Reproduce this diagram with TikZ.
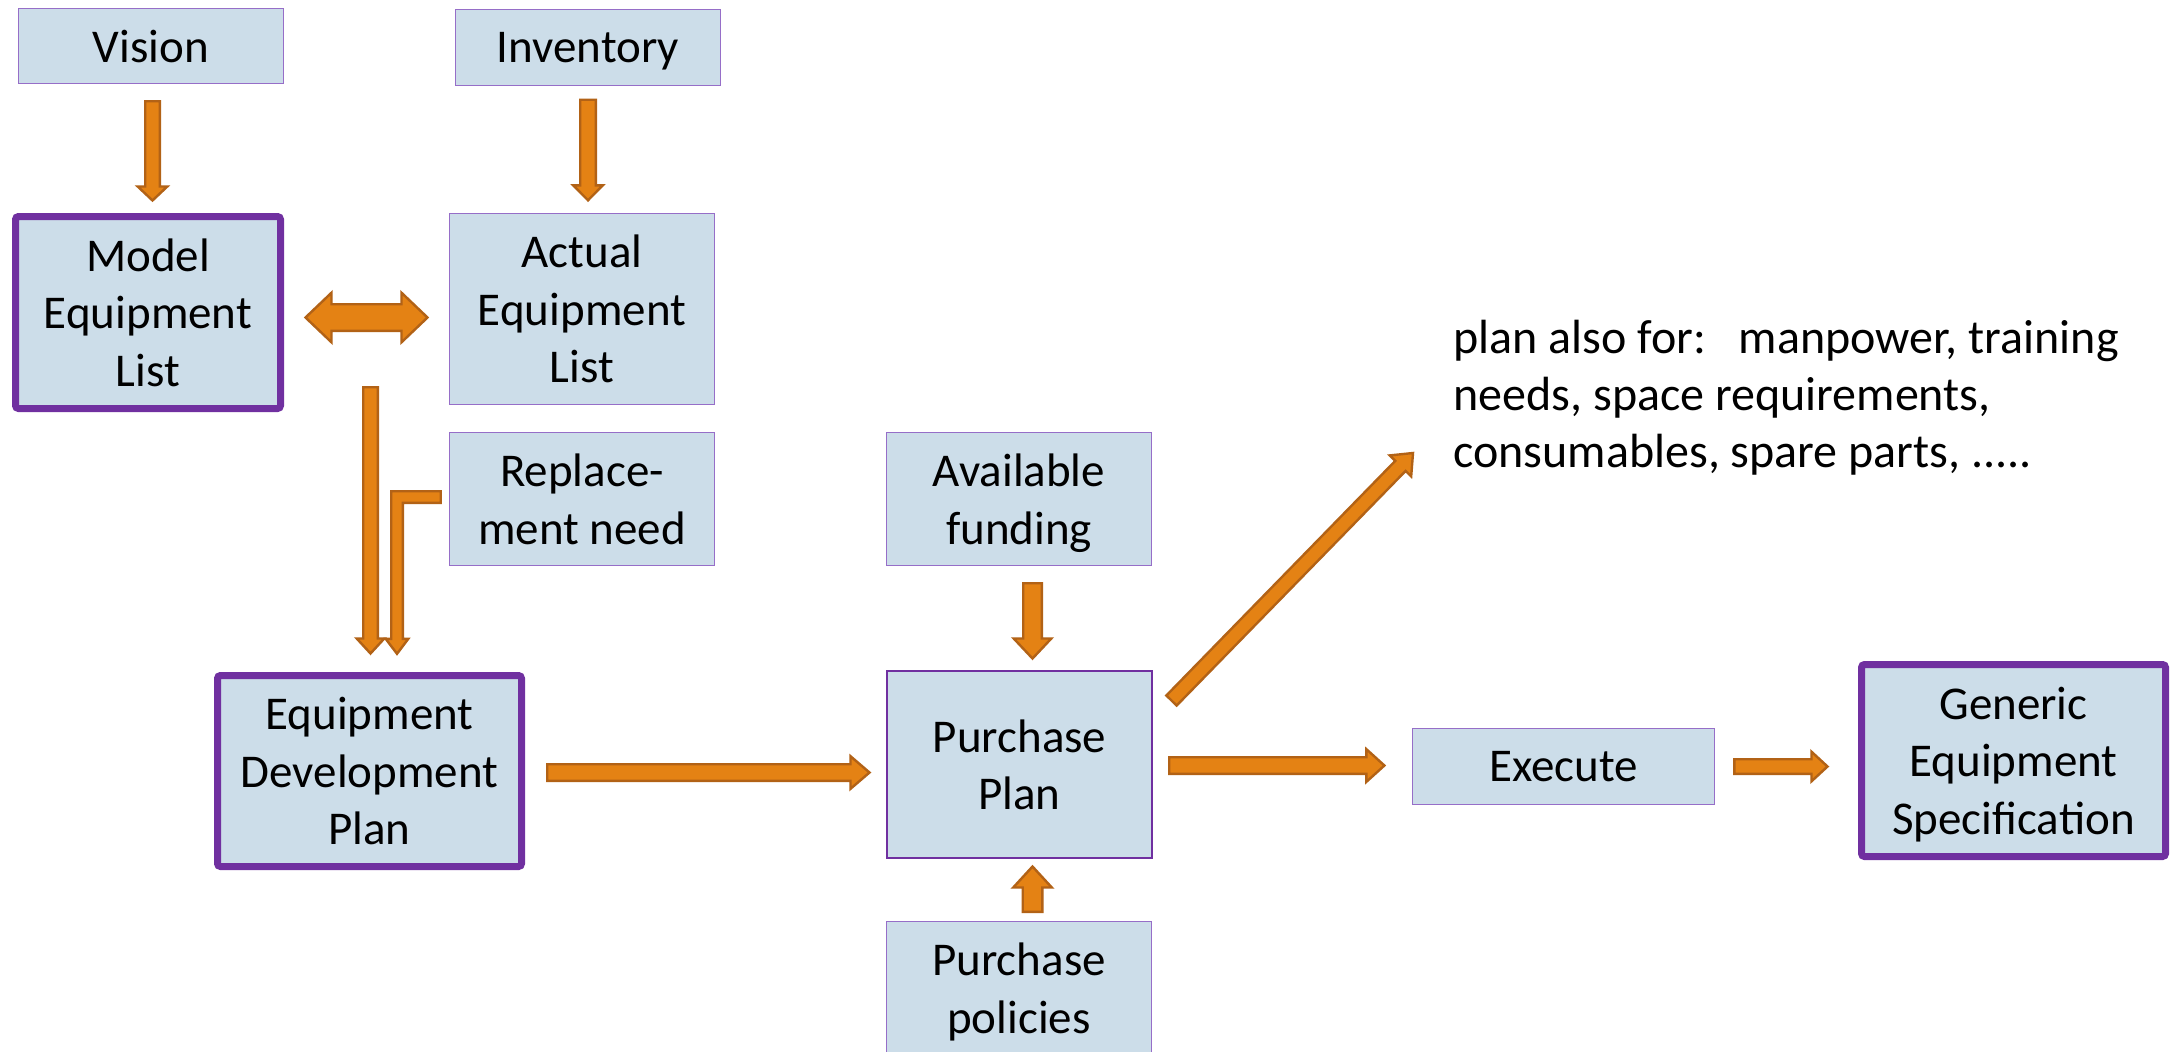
\documentclass[tikz,border=0pt]{standalone}
\usepackage{fontspec}
\setmainfont{Carlito}
\usetikzlibrary{calc}

\definecolor{boxfill}{RGB}{204,221,233}
\definecolor{edgethin}{RGB}{150,110,200}
\definecolor{edgethick}{RGB}{112,48,160}
\definecolor{arrfill}{RGB}{228,130,20}
\definecolor{arredge}{RGB}{178,98,22}

\tikzset{
  box/.style={draw=edgethin, line width=0.6pt, fill=boxfill, align=center,
    inner sep=0pt, text depth=0pt, font=\fontsize{23.5}{28.75}\selectfont,
    minimum width=132.4pt},
  keybox/.style={box, draw=edgethick, line width=3.5pt, rounded corners=1.5pt},
  midbox/.style={box, draw=edgethick, line width=1.1pt},
  blockarr/.style={fill=arrfill, draw=arredge, line width=1.2pt, line join=miter},
  note/.style={align=left, inner sep=0pt, font=\fontsize{24}{28.5}\selectfont},
}

% single-headed block arrow: start, tip, shaft half width, head half width, head length
\newcommand\fatarrow[5]{%
  \coordinate (fa-h) at ($(#2)!#5!(#1)$);
  \draw[blockarr] ($(#1)!#3!90:(#2)$) -- ($(fa-h)!#3!-90:(#1)$)
    -- ($(fa-h)!#4!-90:(#1)$) -- (#2) -- ($(fa-h)!#4!90:(#1)$)
    -- ($(fa-h)!#3!90:(#1)$) -- ($(#1)!#3!-90:(#2)$) -- cycle;}

% double-headed block arrow: tip, tip, shaft half width, head half width, head length
\newcommand\twinarrow[5]{%
  \coordinate (ta-a) at ($(#1)!#5!(#2)$);
  \coordinate (ta-b) at ($(#2)!#5!(#1)$);
  \draw[blockarr] (#1) -- ($(ta-a)!#4!90:(#2)$) -- ($(ta-a)!#3!90:(#2)$)
    -- ($(ta-b)!#3!-90:(#1)$) -- ($(ta-b)!#4!-90:(#1)$) -- (#2)
    -- ($(ta-b)!#4!90:(#1)$) -- ($(ta-b)!#3!90:(#1)$)
    -- ($(ta-a)!#3!-90:(#2)$) -- ($(ta-a)!#4!-90:(#2)$) -- cycle;}

\begin{document}
\begin{tikzpicture}[x=0.5pt, y=-0.5pt]
\useasboundingbox (0,0) rectangle (2177,1051);
\fill[white] (0,0) rectangle (2177,1051);

% boxes
\node[box, minimum height=37.4pt] (vision) at (151,46) {Vision};
\node[box, minimum height=37.9pt] (inventory) at (588,47.5) {Inventory};
\node[keybox, minimum width=132.5pt, minimum height=96pt] (model) at (148,312.5) {Model\\Equipment\\List};
\node[box, minimum height=95.4pt] (actual) at (582,309) {Actual\\Equipment\\List};
\node[box, minimum height=66.4pt] (repl) at (582,499) {Replace-\\ment need};
\node[keybox, minimum width=152pt, minimum height=95.5pt] (edp) at (369.5,771) {Equipment\\Development\\Plan};
\node[box, minimum height=66.4pt] (funding) at (1019,499) {Available\\funding};
\node[midbox, minimum height=93.4pt] (pp) at (1019.5,764.5) {Purchase\\Plan};
\node[box, minimum height=66.4pt] (policies) at (1019,988) {Purchase\\policies};
\node[box, minimum width=151pt, minimum height=37.9pt] (execute) at (1563.5,766.5) {Execute};
\node[keybox, minimum width=152pt, minimum height=96pt] (generic) at (2013.5,760.5) {Generic\\Equipment\\Specification};

% free text; its base anchor sits on the last line
\node[note, anchor=base west] (note) at (1453,467)
  {plan also for:\hspace{16.3pt}manpower, training\\needs, space requirements,\\consumables, spare parts, .....};

% arrow end points
\coordinate (v-s) at ($(vision.south)+(1.5,17.2)$);
\coordinate (v-e) at ($(model.north)+(4.5,-12.5)$);
\coordinate (i-s) at ($(inventory.south)+(0,13.7)$);
\coordinate (i-e) at ($(actual.north)+(6,-12.7)$);
\coordinate (m-a) at ($(model.east)+(21.5,5)$);
\coordinate (m-b) at ($(actual.west)+(-21.5,8.5)$);
\coordinate (pairout) at (370.5,387.2);
\coordinate (l-e) at ($(edp.north)+(1,-18.5)$);
\coordinate (d-s) at ($(edp.east)+(22.2,1.5)$);
\coordinate (d-e) at ($(pp.west)+(-16.5,8)$);
\coordinate (f-s) at ($(funding.south)+(13.5,17.2)$);
\coordinate (f-e) at ($(pp.north)+(13,-11.5)$);
\coordinate (p-s) at ($(policies.north)+(13.5,-9.2)$);
\coordinate (p-e) at ($(pp.south)+(13,7.5)$);
\coordinate (g-s) at ($(pp.north east)+(18.5,30.5)$);
\coordinate (notetip) at (1413,453);
\coordinate (x-s) at ($(pp.east)+(16.2,1)$);
\coordinate (x-e) at ($(execute.west)+(-27.5,-1)$);
\coordinate (s-s) at ($(execute.east)+(19.2,0)$);
\coordinate (s-e) at ($(generic.west)+(-30.5,6)$);

% block arrows
\fatarrow{v-s}{v-e}{3.65pt}{7.4pt}{7pt}
\fatarrow{i-s}{i-e}{3.9pt}{7.4pt}{7.5pt}
\twinarrow{m-a}{m-b}{6.65pt}{12.4pt}{13pt}
\fatarrow{pairout}{l-e}{3.65pt}{6.9pt}{7.5pt}
\fatarrow{d-s}{d-e}{4.15pt}{8.15pt}{9.5pt}
\fatarrow{f-s}{f-e}{4.65pt}{9.4pt}{10pt}
\fatarrow{p-s}{p-e}{4.9pt}{9.65pt}{10.5pt}
\fatarrow{g-s}{notetip}{3.6pt}{7.5pt}{9pt}
\fatarrow{x-s}{x-e}{4.15pt}{8.15pt}{9pt}
\fatarrow{s-s}{s-e}{3.65pt}{7.4pt}{8pt}

% bent arrow from the replacement need down into the development plan
\coordinate (rn-s) at ($(repl.west)+(-8.3,-2)$);
\coordinate (rn-e) at ($(edp.north)+(27.5,-18.2)$);
\coordinate (rn-c) at (rn-e |- rn-s);
\draw[blockarr] ($(rn-s)+(0,-5.8)$) -- ($(rn-c)+(-5.8,-5.8)$) -- ($(rn-e)+(-5.8,-15)$)
  -- ($(rn-e)+(-11.3,-15)$) -- (rn-e) -- ($(rn-e)+(11.3,-15)$) -- ($(rn-e)+(5.8,-15)$)
  -- ($(rn-c)+(5.8,5.8)$) -- ($(rn-s)+(0,5.8)$) -- cycle;
\end{tikzpicture}
\end{document}
